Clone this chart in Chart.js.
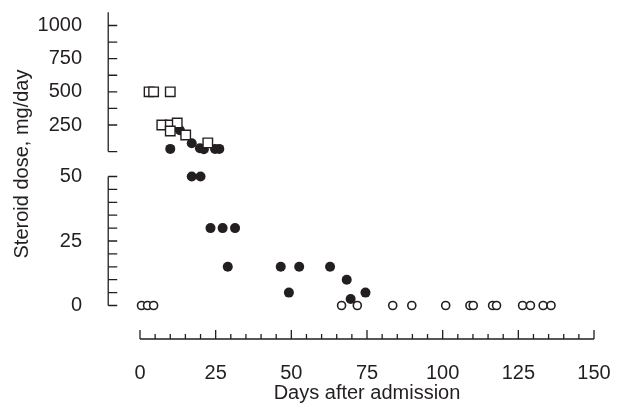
<!DOCTYPE html>
<html>
<head>
<meta charset="utf-8">
<script src="https://cdn.jsdelivr.net/npm/chart.js@4/dist/chart.umd.min.js"></script>
<style>
  html, body { margin: 0; padding: 0; background: #fff; }
</style>
</head>
<body>
<canvas id="doseChart" width="618" height="405"></canvas>
<script>
// open squares, read on the upper (broken) part of the dose axis
var squareDays  = [3, 4.5, 10, 7.2, 10, 12.3, 10, 15.1, 22.4];
var squareDoses = [500, 500, 500, 250, 250, 265, 205, 175, 115];

// filled circles on the upper part
var highDays  = [13.2, 10, 17.1, 19.8, 21.1, 24.8, 26.2];
var highDoses = [210, 70, 112, 75, 67, 70, 70];

// filled circles on the lower part (0-50 mg/day)
var lowDays  = [17.1, 20, 23.3, 27.3, 31.4, 29, 46.5, 52.6, 62.8, 49.2, 68.3, 69.6, 74.5];
var lowDoses = [50, 50, 30, 30, 30, 15, 15, 15, 15, 5, 10, 2.5, 5];

// open circles, no steroid
var zeroDays  = [0.5, 2.5, 4.5, 66.6, 71.8, 83.5, 89.8, 101, 109, 110.1, 116.5, 117.8, 126.4, 129, 133.2, 135.8];
var zeroDoses = [0, 0, 0, 0, 0, 0, 0, 0, 0, 0, 0, 0, 0, 0, 0, 0];

// tick labels
var dayTicks  = [0, 25, 50, 75, 100, 125, 150];
var highTicks = [250, 500, 750, 1000];
var lowTicks  = [0, 25, 50];

var ink = '#231f20';
var face = '"Liberation Sans", Arial, Helvetica, sans-serif';

function pairs(xs, ys) {
  return xs.map(function (x, i) { return { x: x, y: ys[i] }; });
}
function fixTicks(vals) {
  return function (scale) {
    scale.ticks = vals.map(function (v) { return { value: v }; });
  };
}
function plain(v) { return String(v); }

// axis lines with inward ticks, drawn detached like the original figure
var brokenAxes = {
  id: 'brokenAxes',
  afterDraw: function (chart) {
    var ctx = chart.ctx;
    var xs = chart.scales.x, hi = chart.scales.yHigh, lo = chart.scales.yLow;
    var ax = xs.getPixelForValue(-10.5);
    var ay = chart.chartArea.bottom;
    var v, p;
    ctx.save();
    ctx.strokeStyle = ink;
    ctx.lineWidth = 1.3;
    ctx.beginPath();
    ctx.moveTo(xs.getPixelForValue(0), ay);
    ctx.lineTo(xs.getPixelForValue(150), ay);
    for (v = 0; v <= 150; v += 5) {
      p = xs.getPixelForValue(v);
      ctx.moveTo(p, ay);
      ctx.lineTo(p, ay - (v % 25 === 0 ? 9 : 5));
    }
    ctx.moveTo(ax, hi.getPixelForValue(1100));
    ctx.lineTo(ax, hi.getPixelForValue(50));
    [50, 250, 375, 500, 625, 750, 875, 1000].forEach(function (t) {
      p = hi.getPixelForValue(t);
      ctx.moveTo(ax, p);
      ctx.lineTo(ax + 9, p);
    });
    ctx.moveTo(ax, lo.getPixelForValue(50));
    ctx.lineTo(ax, lo.getPixelForValue(0));
    for (v = 0; v <= 50; v += 5) {
      p = lo.getPixelForValue(v);
      ctx.moveTo(ax, p);
      ctx.lineTo(ax + 9, p);
    }
    ctx.stroke();

    // y title centred on the break
    var mid = (hi.getPixelForValue(50) + lo.getPixelForValue(50)) / 2;
    ctx.translate(22, mid);
    ctx.rotate(-Math.PI / 2);
    ctx.fillStyle = ink;
    ctx.font = '20px ' + face;
    ctx.textAlign = 'center';
    ctx.textBaseline = 'middle';
    ctx.fillText('Steroid dose, mg/day', 0, 0);
    ctx.restore();
  }
};

var ctx = document.getElementById('doseChart');
var doseChart = new Chart(ctx, {
  type: 'scatter',
  data: {
    datasets: [
      {
        label: 'squares',
        data: pairs(squareDays, squareDoses),
        yAxisID: 'yHigh',
        pointStyle: 'rect',
        pointRadius: 6.7,
        borderWidth: 1.4,
        borderColor: ink,
        backgroundColor: '#fff',
        clip: false
      },
      {
        label: 'high',
        data: pairs(highDays, highDoses),
        yAxisID: 'yHigh',
        pointRadius: 5,
        borderWidth: 0,
        backgroundColor: ink,
        clip: false
      },
      {
        label: 'low',
        data: pairs(lowDays, lowDoses),
        yAxisID: 'yLow',
        pointRadius: 5,
        borderWidth: 0,
        backgroundColor: ink,
        clip: false
      },
      {
        label: 'none',
        data: pairs(zeroDays, zeroDoses),
        yAxisID: 'yLow',
        pointRadius: 4,
        borderWidth: 1.6,
        borderColor: ink,
        backgroundColor: '#fff',
        clip: false
      }
    ]
  },
  options: {
    responsive: false,
    animation: false,
    devicePixelRatio: 1,
    layout: { padding: { top: 12, right: 24, left: 0, bottom: 0 } },
    plugins: { legend: { display: false }, tooltip: { enabled: false } },
    scales: {
      x: {
        type: 'linear',
        min: 0,
        max: 150,
        grid: { display: false },
        border: { display: false },
        afterBuildTicks: fixTicks(dayTicks),
        afterFit: function (s) { s.height = 66; s.paddingLeft = 0; s.paddingRight = 0; },
        ticks: { color: ink, font: { family: face, size: 20 }, padding: 14, maxRotation: 0, autoSkip: false, callback: plain },
        title: {
          display: true,
          text: 'Days after admission',
          color: ink,
          font: { family: face, size: 20 },
          padding: { top: 0, bottom: 0 }
        }
      },
      yLow: {
        type: 'linear',
        position: 'left',
        stack: 'dose',
        stackWeight: 175,
        min: -12.98,
        max: 54.84,
        grid: { display: false },
        border: { display: false },
        afterBuildTicks: fixTicks(lowTicks),
        afterFit: function (s) { s.width = 140; s.paddingTop = 0; s.paddingBottom = 0; },
        ticks: { color: ink, font: { family: face, size: 20 }, padding: 50, autoSkip: false, callback: plain }
      },
      yHigh: {
        type: 'linear',
        position: 'left',
        stack: 'dose',
        stackWeight: 152,
        min: -44,
        max: 1101.8,
        grid: { display: false },
        border: { display: false },
        afterBuildTicks: fixTicks(highTicks),
        afterFit: function (s) { s.width = 140; s.paddingTop = 0; s.paddingBottom = 0; },
        ticks: { color: ink, font: { family: face, size: 20 }, padding: 50, autoSkip: false, callback: plain }
      }
    }
  },
  plugins: [brokenAxes]
});
</script>
</body>
</html>
